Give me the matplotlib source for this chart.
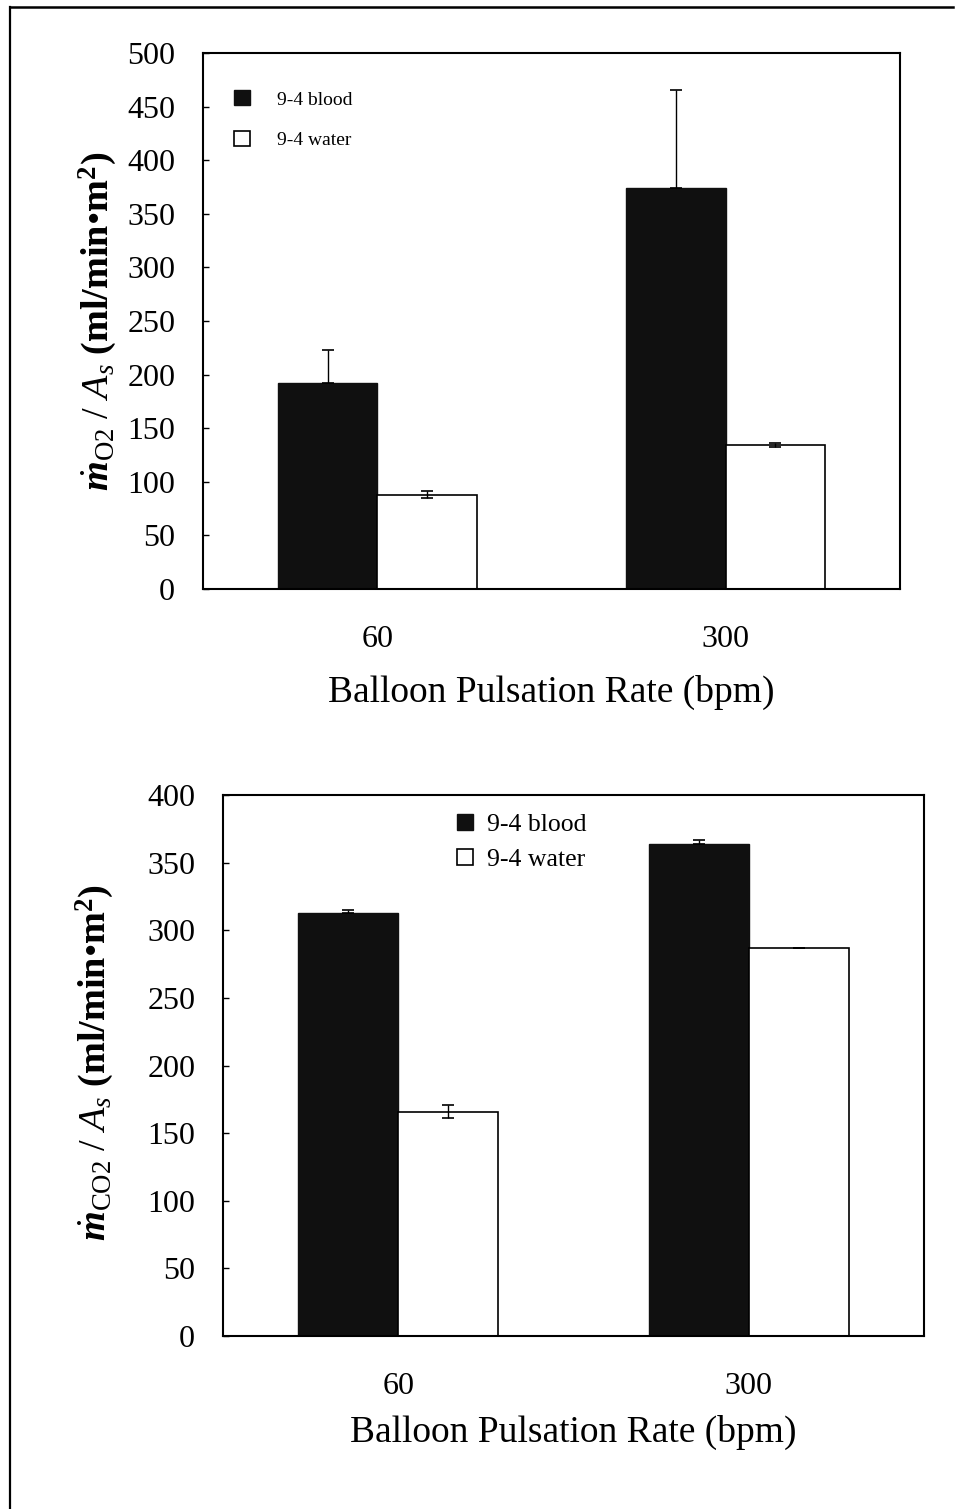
import matplotlib

matplotlib.use("Agg")
import matplotlib.pyplot as plt
from matplotlib.lines import Line2D
import numpy as np

# data
rates = ["60", "300"]
series = ["9-4 blood", "9-4 water"]
o2_blood = [192, 374]
o2_blood_err = [31, 91]
o2_water = [88, 134]
o2_water_err = [3, 2]
co2_blood = [313, 364]
co2_blood_err = [2, 3]
co2_water = [166, 287]
co2_water_err = [5, 0]

plt.rcParams["font.family"] = "Liberation Serif"
plt.rcParams["mathtext.fontset"] = "custom"
plt.rcParams["mathtext.rm"] = "Liberation Serif"
plt.rcParams["mathtext.it"] = "Liberation Serif:italic"
plt.rcParams["mathtext.bf"] = "Liberation Serif:bold"
plt.rcParams["mathtext.bfit"] = "Liberation Serif:italic:bold"

DARK = "#101010"
W = 0.285

fig = plt.figure(figsize=(9.57, 15.09), dpi=100)

# page frame (left and top edges of the scanned box)
fig.add_artist(Line2D([10 / 957, 10 / 957], [0, 1 - 7 / 1509], transform=fig.transFigure,
                      color="black", linewidth=1.6))
fig.add_artist(Line2D([10 / 957, 953 / 957], [1 - 7 / 1509, 1 - 7 / 1509], transform=fig.transFigure,
                      color="black", linewidth=1.8))


def panel(rect, blood, blood_err, water, water_err, ymax, ystep, legend_anchor, legend_kw,
          ylabel, ylabel_xy, xlabelpad):
    ax = fig.add_axes(rect)
    x = np.arange(len(rates))
    ax.bar(x - W / 2, blood, W, color=DARK, edgecolor=DARK, linewidth=1.0, label=series[0])
    ax.bar(x + W / 2, water, W, color="white", edgecolor="black", linewidth=1.2, label=series[1])
    ax.errorbar(x - W / 2, blood, yerr=[[0] * len(blood), blood_err], fmt="none",
                ecolor="black", elinewidth=1.0, capsize=4, capthick=1.2)
    ax.errorbar(x + W / 2, water, yerr=water_err, fmt="none",
                ecolor="black", elinewidth=1.0, capsize=4, capthick=1.2)
    ax.set_xlim(-0.5, 1.5)
    ax.set_ylim(0, ymax)
    ax.set_yticks(np.arange(0, ymax + 1, ystep))
    ax.set_xticks(x)
    ax.set_xticklabels(rates)
    ax.tick_params(axis="y", direction="in", length=4, width=1.0, labelsize=23, pad=20)
    ax.tick_params(axis="x", length=0, labelsize=23, pad=26)
    for s in ax.spines.values():
        s.set_linewidth(1.5)
    ax.set_xlabel("Balloon Pulsation Rate (bpm)", fontsize=27, labelpad=xlabelpad)
    ax.legend(loc="upper left", bbox_to_anchor=legend_anchor, frameon=False,
              borderaxespad=0, borderpad=0, **legend_kw)
    fig.text(ylabel_xy[0], ylabel_xy[1], ylabel, rotation=90, ha="center", va="center", fontsize=27.5)
    return ax


panel([0.2121, 0.6097, 0.7283, 0.3552], o2_blood, o2_blood_err, o2_water, o2_water_err,
      500, 50, (0.045, 0.93),
      dict(fontsize=14, handlelength=0.8, handleheight=0.8, handletextpad=1.4, labelspacing=1.15),
      r"$\dot{\mathbfit{m}}_{\mathrm{O2}}\ /\ A_s\ \mathbf{(ml/min}$•$\mathbf{m}^{\mathbf{2}}\mathbf{)}$",
      (98 / 957, 1 - 321 / 1509), 15)

panel([0.2330, 0.1146, 0.7325, 0.3585], co2_blood, co2_blood_err, co2_water, co2_water_err,
      400, 50, (0.334, 0.965),
      dict(fontsize=18.5, handlelength=0.6, handleheight=0.6, handletextpad=0.55, labelspacing=0.5),
      r"$\dot{\mathbfit{m}}_{\mathrm{CO2}}\ /\ A_s\ \mathbf{(ml/min}$•$\mathbf{m}^{\mathbf{2}}\mathbf{)}$",
      (95 / 957, 1 - 1062 / 1509), 10)

fig.savefig("out.png", dpi=100)
